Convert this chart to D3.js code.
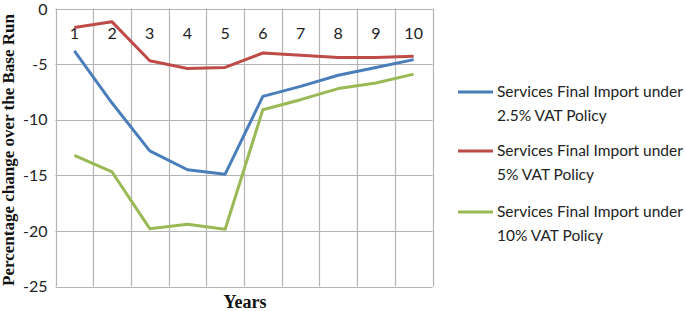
<!DOCTYPE html>
<html><head><meta charset="utf-8">
<script src="https://cdn.jsdelivr.net/npm/d3@7"></script>
<style>body{margin:0;background:#fff}svg{display:block}</style>
</head><body>
<script>
const years = [1,2,3,4,5,6,7,8,9,10];
const yTicks = [0,-5,-10,-15,-20,-25];
const seriesNames = ["Services Final Import under 2.5% VAT Policy","Services Final Import under 5% VAT Policy","Services Final Import under 10% VAT Policy"];
const legendLine1 = ["Services Final Import under","Services Final Import under","Services Final Import under"];
const legendLine2 = ["2.5% VAT Policy","5% VAT Policy","10% VAT Policy"];
const vat25 = [-3.8,-8.5,-12.8,-14.5,-14.9,-7.9,-7.0,-6.0,-5.3,-4.6];
const vat5  = [-1.7,-1.2,-4.7,-5.4,-5.3,-4.0,-4.2,-4.4,-4.4,-4.3];
const vat10 = [-13.2,-14.7,-19.8,-19.4,-19.85,-9.1,-8.2,-7.2,-6.7,-5.9];
const colors = ["#4A7EBB","#BE4B48","#98B954"];
const allSeries = [vat25, vat5, vat10];

const W=685,H=311;
const svg=d3.select("body").append("svg").attr("width",W).attr("height",H);
const x=d3.scaleBand().domain(years).range([55.5,432.5]);
const y=d3.scaleLinear().domain([-25,0]).range([286.5,8.5]);
const grid="#b4b4b4";

svg.append("g").selectAll("line").data(yTicks).join("line")
  .attr("x1",x.range()[0]).attr("x2",x.range()[1])
  .attr("y1",d=>Math.round(y(d))+0.5).attr("y2",d=>Math.round(y(d))+0.5)
  .attr("stroke",grid).attr("stroke-width",1.2);
const edges = years.map(d=>x(d)).concat([x.range()[1]]);
svg.append("g").selectAll("line").data(edges).join("line")
  .attr("x1",d=>Math.round(d)+0.5).attr("x2",d=>Math.round(d)+0.5)
  .attr("y1",y(0)).attr("y2",y(-25))
  .attr("stroke",grid).attr("stroke-width",1.2);

const yAxis=d3.axisLeft(y).tickValues(yTicks).tickSize(0).tickPadding(8).tickFormat(d=>String(d));
const ga=svg.append("g").attr("transform",`translate(${x.range()[0]},0)`).call(yAxis);
ga.select(".domain").remove();
ga.selectAll("text").attr("font-family","Lato, sans-serif").attr("font-size",16).attr("fill","#222")
  .attr("dy",d=>d===0?"0.4em":"0.32em");

svg.append("g").selectAll("text").data(years).join("text")
  .attr("x",d=>x(d)+x.bandwidth()/2).attr("y",39)
  .attr("text-anchor","middle").attr("font-family","Lato, sans-serif").attr("font-size",16).attr("fill","#222")
  .text(d=>d);

const line=d3.line().x((d,i)=>x(years[i])+x.bandwidth()/2).y(d=>y(d));
svg.append("g").selectAll("path").data(allSeries).join("path")
  .attr("d",line).attr("fill","none").attr("stroke",(d,i)=>colors[i]).attr("stroke-width",3)
  .attr("stroke-linejoin","round");

svg.append("text").attr("transform","translate(14,150) rotate(-90)")
  .attr("text-anchor","middle").attr("font-family","'Liberation Serif', serif").attr("font-weight","bold")
  .attr("font-size",17).attr("fill","#111").text("Percentage change over the Base Run");
svg.append("text").attr("x",245).attr("y",308).attr("text-anchor","middle")
  .attr("font-family","'Liberation Serif', serif").attr("font-weight","bold").attr("font-size",18).attr("fill","#111").text("Years");

const ly=[92,151,212];
const lg=svg.append("g").selectAll("g").data(seriesNames).join("g");
lg.append("line").attr("x1",458).attr("x2",493).attr("y1",(d,i)=>ly[i]).attr("y2",(d,i)=>ly[i])
  .attr("stroke",(d,i)=>colors[i]).attr("stroke-width",3);
lg.append("text").attr("x",497).attr("y",(d,i)=>ly[i]+5).attr("font-family","Lato, sans-serif").attr("font-size",15.5).attr("fill","#222")
  .text((d,i)=>legendLine1[i]);
lg.append("text").attr("x",497).attr("y",(d,i)=>ly[i]+29).attr("font-family","Lato, sans-serif").attr("font-size",15.5).attr("fill","#222")
  .text((d,i)=>legendLine2[i]);
</script>
</body></html>
